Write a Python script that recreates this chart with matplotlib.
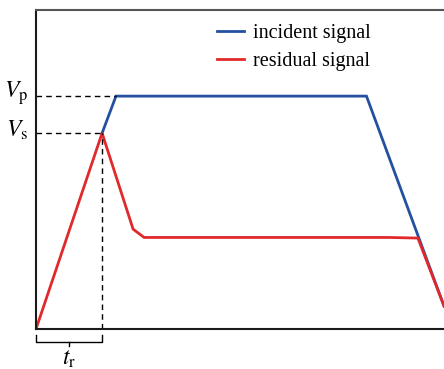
import matplotlib
matplotlib.use("Agg")
from matplotlib import pyplot as plt

plt.rcParams['mathtext.fontset'] = 'stix'
plt.rcParams['font.family'] = ['Liberation Serif', 'DejaVu Serif']

# time axis normalised to 0..1, amplitude normalised to 0..1
incident_t = [0.162, 0.196, 0.810, 1.0]
incident_v = [0.614, 0.730, 0.730, 0.072]
residual_t = [0.0, 0.162, 0.238, 0.265, 0.865, 0.936, 1.0]
residual_v = [0.0, 0.614, 0.313, 0.287, 0.287, 0.285, 0.072]
v_p = 0.730
v_s = 0.614
t_r = 0.162
labels = ['incident signal', 'residual signal']

blue = '#2450a0'
red = '#e1292b'

fig = plt.figure(figsize=(4.44, 3.69), dpi=100)
ax = fig.add_axes([36 / 444, 40 / 369, 408 / 444, 319 / 369])
ax.set_xlim(0, 1)
ax.set_ylim(0, 1)

ln1, = ax.plot(incident_t, incident_v, color=blue, lw=2.0, solid_joinstyle='miter')
ln2, = ax.plot(residual_t, residual_v, color=red, lw=2.0, solid_joinstyle='miter')

# guide lines for Vp, Vs and tr
ax.plot([0, incident_t[1]], [v_p, v_p], color='black', lw=1.0, ls=(0, (4, 3)))
ax.plot([0, t_r], [v_s, v_s], color='black', lw=1.0, ls=(0, (4, 3)))
ax.plot([t_r, t_r], [0, v_s], color='black', lw=1.0, ls=(0, (4, 3)))

ax.set_xticks([])
ax.set_yticks([])
ax.spines['right'].set_visible(False)
for s in ['left', 'bottom']:
    ax.spines[s].set_linewidth(1.5)
    ax.spines[s].set_color('#1a1a1a')
ax.spines['top'].set_linewidth(1.5)
ax.spines['top'].set_color('#555555')

ax.text(-0.018, v_p + 0.01, r'$V_{\mathrm{p}}$', fontsize=17, ha='right', va='center')
ax.text(-0.018, v_s + 0.01, r'$V_{\mathrm{s}}$', fontsize=17, ha='right', va='center')

# brace under the rise time
tr_ = ax.get_xaxis_transform()
by0, by1, by2 = -0.018, -0.04, -0.053
ax.plot([0, 0, t_r, t_r], [by0, by1, by1, by0], color='black', lw=1.0,
        transform=tr_, clip_on=False)
ax.plot([t_r / 2, t_r / 2], [by1, by2], color='black', lw=1.0,
        transform=tr_, clip_on=False)
ax.text(t_r / 2, -0.062, r'$t_{\mathrm{r}}$', fontsize=17, ha='center', va='top',
        transform=tr_)

ax.legend([ln1, ln2], labels, loc='upper left', bbox_to_anchor=(207 / 444, 1 - 14 / 369),
          bbox_transform=fig.transFigure, frameon=False, fontsize=14.5,
          handlelength=1.35, handletextpad=0.45, labelspacing=0.45, borderpad=0)

fig.savefig('out.png', dpi=100)
